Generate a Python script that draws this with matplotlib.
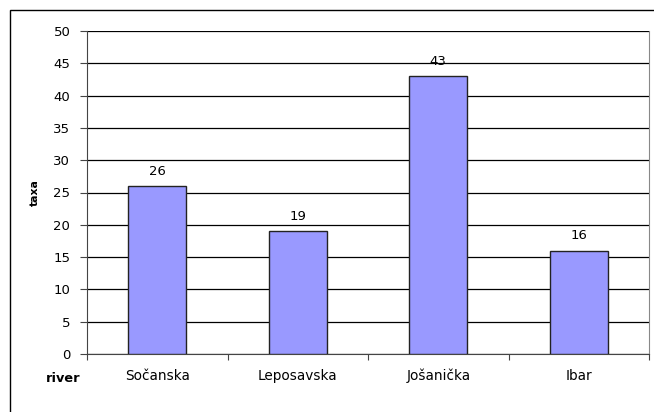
import matplotlib
matplotlib.use("Agg")
import matplotlib.pyplot as plt
from matplotlib.patches import Rectangle

categories = ["Sočanska", "Leposavska", "Jošanička", "Ibar"]
values = [26, 19, 43, 16]
yticks = [0, 5, 10, 15, 20, 25, 30, 35, 40, 45, 50]

plt.rcParams['font.family'] = ['DejaVu Sans']

W, H = 654, 412
fig = plt.figure(figsize=(W/100, H/100), dpi=100)
ax = fig.add_axes([87/W, 1-354/H, (649-87)/W, (354-31)/H])

x = list(range(len(categories)))
ax.bar(x, values, width=0.41, color="#9999FF", edgecolor="#222222", linewidth=1.0, zorder=3)
for xi, v in zip(x, values):
    ax.text(xi, v + 1.3, str(v), ha="center", va="bottom", fontsize=9.5, zorder=4)

ax.set_xlim(-0.5, len(categories) - 0.5)
ax.set_ylim(0, 50)
ax.set_yticks(yticks)
ax.set_yticklabels([str(t) for t in yticks], fontsize=9.5)
ax.yaxis.grid(True, color="#000000", linewidth=0.9, zorder=0)
ax.set_xticks([i - 0.5 for i in range(len(categories) + 1)])
ax.set_xticklabels([])
for xi, name in zip(x, categories):
    ax.text(xi, -0.081, name, transform=ax.get_xaxis_transform(), ha="center",
            va="baseline", fontsize=9.8)
ax.tick_params(axis='x', which='major', length=4, direction='out', color="#444444")
ax.tick_params(axis='y', length=5, direction='out', color="#444444", pad=7)

ax.spines["top"].set_visible(False)
ax.spines["right"].set_color("#888888")
ax.spines["left"].set_color("#444444")
ax.spines["bottom"].set_color("#444444")

fig.text(35/W, 1-193/H, "taxa", rotation=90, ha="center", va="center", fontsize=7.8, fontweight="bold")
fig.text(63/W, 1-382/H, "river", ha="center", va="baseline", fontsize=9.3, fontweight="bold")

fig.patches.append(Rectangle((10/W, -0.1), 1.2, 1 - 10/H + 0.1, transform=fig.transFigure,
                             fill=False, edgecolor="black", linewidth=1.0))

fig.savefig("out.png", dpi=100)
